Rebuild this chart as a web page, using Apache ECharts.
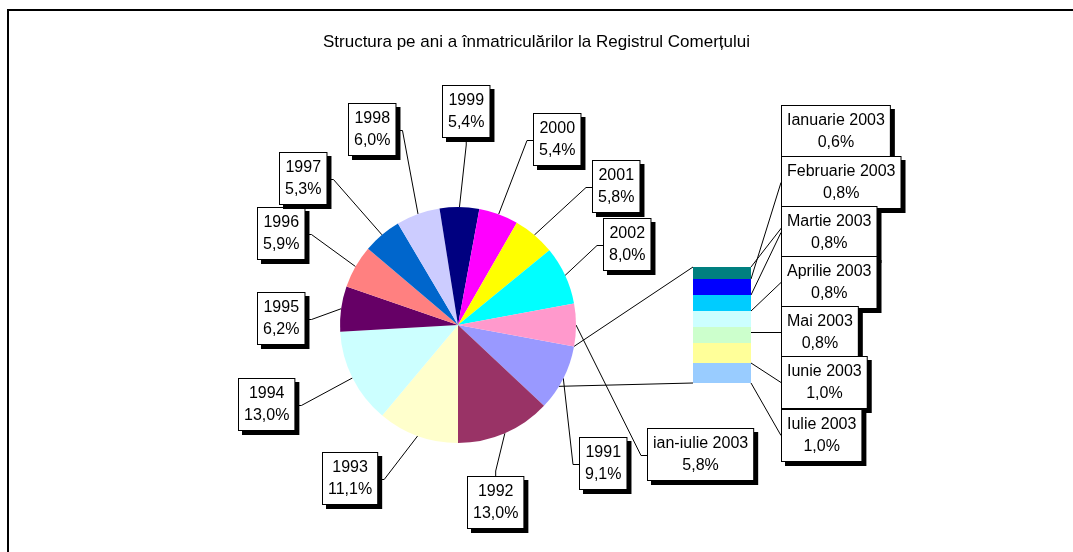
<!DOCTYPE html>
<html>
<head>
<meta charset="utf-8">
<script src="https://cdn.jsdelivr.net/npm/echarts@6/dist/echarts.min.js"></script>
<style>
  html, body { margin: 0; padding: 0; background: #fff; }
  #main { width: 1073px; height: 552px; }
</style>
</head>
<body>
<div id="main"></div>
<script>
var titlu = 'Structura pe ani a înmatriculărilor la Registrul Comerțului';
// ponderea pe ani (%)
var ani = ['1991', '1992', '1993', '1994', '1995', '1996', '1997', '1998', '1999', '2000', '2001', '2002', 'ian-iulie 2003'];
var pondereAni = [9.1, 13.0, 11.1, 13.0, 6.2, 5.9, 5.3, 6.0, 5.4, 5.4, 5.8, 8.0, 5.8];
// detaliere ian-iulie 2003 (%)
var luni = ['Ianuarie 2003', 'Februarie 2003', 'Martie 2003', 'Aprilie 2003', 'Mai 2003', 'Iunie 2003', 'Iulie 2003'];
var pondereLuni = [0.6, 0.8, 0.8, 0.8, 0.8, 1.0, 1.0];

var culoriAni = ['#9999FF', '#993366', '#FFFFCC', '#CCFFFF', '#660066', '#FF8080', '#0066CC',
  '#CCCCFF', '#000080', '#FF00FF', '#FFFF00', '#00FFFF', '#FF99CC'];
var culoriLuni = ['#008080', '#0000FF', '#00CCFF', '#CCFFFF', '#CCFFCC', '#FFFF99', '#99CCFF'];

// asezare (px)
var centru = [458, 325], raza = 118;
var bara = { left: 693, top: 267, width: 58, height: 116 };
// colt stanga-sus al casetelor de eticheta
var casetePie = [[579, 438], [467, 477], [322, 453], [238, 379], [257, 293], [257, 208], [279, 153],
  [348, 104], [442, 86], [533, 114], [592, 161], [603, 219], [647, 429]];
var caseteLuniX = 781;
var caseteLuniY = [106, 157, 207, 257, 307, 357, 410];

var font = 'Liberation Sans, Arial, sans-serif';
var stilEticheta = {
  color: '#000', fontFamily: font, fontSize: 16, lineHeight: 22,
  backgroundColor: '#fff', borderColor: '#000', borderWidth: 1, padding: [4, 5, 3, 5],
  shadowColor: '#000', shadowOffsetX: 4, shadowOffsetY: 4, shadowBlur: 0
};

function procent(v) { return v.toFixed(1).replace('.', ',') + '%'; }

var total = pondereAni.reduce(function (s, v) { return s + v; }, 0);
var unghiAltele = pondereAni[pondereAni.length - 1] / total * 360;
var unghiStart = 360 - unghiAltele / 2;

// unghiul de mijloc al fiecarei felii (grade, sens trigonometric)
var mijloace = [];
(function () {
  var a = unghiStart;
  pondereAni.forEach(function (v) {
    var d = v / total * 360;
    mijloace.push(a - d / 2);
    a -= d;
  });
})();

function linie(a, x, y, w, h) {
  var s = 6;
  if (x > a[0]) return [a, [x - s, y + h / 2], [x, y + h / 2]];
  if (x + w < a[0]) return [a, [x + w + s, y + h / 2], [x + w, y + h / 2]];
  if (y > a[1]) return [a, [x + w / 2, y - s], [x + w / 2, y]];
  return [a, [x + w / 2, y + h + s], [x + w / 2, y + h]];
}

function punctPie(unghi) {
  var r = unghi * Math.PI / 180;
  return [centru[0] + raza * Math.cos(r), centru[1] - raza * Math.sin(r)];
}

var seriiLuni = luni.map(function (l, i) {
  return {
    name: l, type: 'bar', stack: 'luni', barWidth: '100%',
    data: [pondereLuni[i]],
    itemStyle: { color: culoriLuni[i] },
    label: Object.assign({ show: true, position: 'right',
      formatter: function (p) { return p.seriesName + '\n' + procent(p.value); } }, stilEticheta),
    labelLine: { show: true, lineStyle: { color: '#000', width: 1 } },
    labelLayout: function (p) {
      var w = p.labelRect.width, h = p.labelRect.height;
      var x = caseteLuniX, y = caseteLuniY[i];
      var a = [p.rect.x + p.rect.width, p.rect.y + p.rect.height / 2];
      return { x: x + w / 2, y: y, align: 'center', verticalAlign: 'top', labelLinePoints: linie(a, x, y, w, h) };
    }
  };
});

var sus = punctPie(unghiStart), jos = punctPie(unghiStart - unghiAltele);

var option = {
  animation: false,
  backgroundColor: '#fff',
  title: {
    text: titlu, left: 'center', top: 29,
    textStyle: { fontFamily: font, fontSize: 17, fontWeight: 'normal', color: '#000' }
  },
  graphic: [
    { type: 'line', shape: { x1: 7, y1: 10, x2: 1073, y2: 10 }, style: { stroke: '#000', lineWidth: 2 } },
    { type: 'line', shape: { x1: 8, y1: 9, x2: 8, y2: 552 }, style: { stroke: '#000', lineWidth: 2 } },
    { type: 'line', shape: { x1: sus[0], y1: sus[1], x2: bara.left, y2: bara.top }, style: { stroke: '#000', lineWidth: 1 } },
    { type: 'line', shape: { x1: jos[0], y1: jos[1], x2: bara.left, y2: bara.top + bara.height }, style: { stroke: '#000', lineWidth: 1 } }
  ],
  grid: { left: bara.left, top: bara.top, width: bara.width, height: bara.height },
  xAxis: { type: 'category', data: ['ian-iulie 2003'], show: false },
  yAxis: { type: 'value', min: 0, max: 5.8, inverse: true, show: false },
  series: [{
    type: 'pie', center: centru, radius: raza, startAngle: unghiStart, clockwise: true,
    avoidLabelOverlap: false,
    data: ani.map(function (a, i) { return { name: a, value: pondereAni[i], itemStyle: { color: culoriAni[i] } }; }),
    label: Object.assign({ position: 'outside',
      formatter: function (p) { return p.name + '\n' + procent(p.value); } }, stilEticheta),
    labelLine: { show: true, length: 10, length2: 6, lineStyle: { color: '#000', width: 1 } },
    labelLayout: function (p) {
      var c = casetePie[p.dataIndex];
      var w = p.labelRect.width, h = p.labelRect.height;
      var a = punctPie(mijloace[p.dataIndex]);
      return { x: c[0] + w / 2, y: c[1], align: 'center', verticalAlign: 'top', labelLinePoints: linie(a, c[0], c[1], w, h) };
    },
    emphasis: { disabled: true }
  }].concat(seriiLuni)
};

var chart = echarts.init(document.getElementById('main'));
chart.setOption(option);
</script>
</body>
</html>
